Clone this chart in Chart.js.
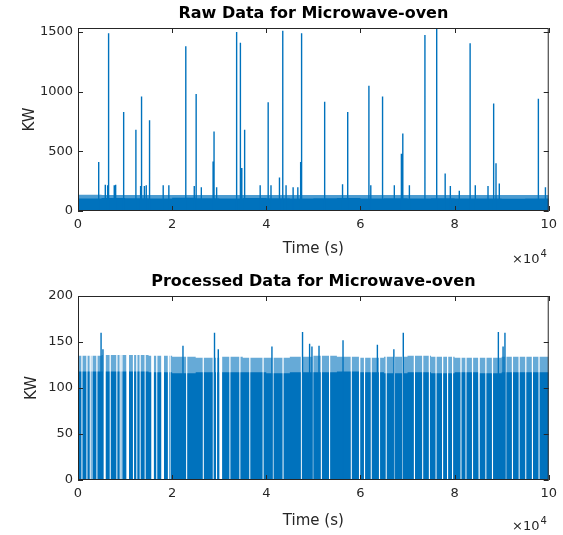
<!DOCTYPE html>
<html>
<head>
<meta charset="utf-8">
<script src="https://cdn.jsdelivr.net/npm/chart.js@4.4.1/dist/chart.umd.min.js"></script>
<style>
  body { margin: 0; background: #fff; }
  .panel { position: absolute; left: 0; width: 563px; }
</style>
</head>
<body>
<div class="panel" style="top:0;height:265px"><canvas id="rawChart" width="563" height="265"></canvas></div>
<div class="panel" style="top:265px;height:270px"><canvas id="procChart" width="563" height="270"></canvas></div>
<script>
// tick labels
const xTicks = [0, 20000, 40000, 60000, 80000, 100000];
const rawYTicks = [0, 500, 1000, 1500];
const procYTicks = [0, 50, 100, 150, 200];

// segment starts (s) for the dense on/off band, 5000 s each
const segT = [0, 5000, 10000, 15000, 20000, 25000, 30000, 35000, 40000, 45000,
  50000, 55000, 60000, 65000, 70000, 75000, 80000, 85000, 90000, 95000];

// raw data: band level (light fringe / dense body) per segment
const rawUpperV = [136, 135, 134, 135, 134, 133, 134, 135, 134, 133, 134, 135, 134, 134, 133, 134, 134, 133, 133, 134];
const rawBodyV = [105, 108, 106, 104, 110, 106, 104, 108, 106, 104, 106, 108, 105, 106, 104, 106, 105, 104, 102, 104];

// raw data: spikes
const rawSpikeT = [4400, 5800, 6300, 6500, 7700, 8000, 9700, 12300, 13300, 13500, 14100, 14500, 15200, 18100, 19300,
  22900, 24700, 25100, 26200, 28700, 28900, 29450, 33700, 34500, 34800, 35400, 38700, 40400, 41000, 42800,
  43500, 44200, 45700, 46700, 47300, 47500, 52400, 56200, 57300, 61800, 62200, 64700, 67200, 68700,
  69000, 70400, 73700, 76200, 78000, 79100, 81000, 83300, 84400, 87100, 88300, 88800, 89500, 97800, 99300];
const rawSpikeV = [410, 220, 215, 1490, 215, 220, 830, 680, 210, 960, 210, 215, 760, 215, 215,
  1380, 210, 980, 200, 415, 665, 200, 1500, 1410, 360, 680, 215, 910, 215, 280,
  1510, 215, 200, 200, 410, 1490, 915, 225, 830, 1050, 215, 960, 215, 480,
  650, 215, 1475, 1530, 315, 210, 170, 1405, 215, 210, 900, 400, 230, 940, 200];

// processed data: band level per segment
const procUpperV = [135, 136, 136, 135, 134, 133, 134, 133, 133, 134, 135, 134, 133, 134, 135, 134, 133, 133, 134, 134];
const procBodyV = [118, 118, 118, 117, 116, 117, 117, 117, 116, 117, 117, 118, 117, 116, 117, 116, 117, 116, 117, 117];

// processed data: times where the signal drops to zero (light stripes)
const procGapT = [840, 1900, 2600, 2970, 4020, 5430, 5780, 6840, 8260, 8960, 9320, 10380, 10700, 11790, 12500,
  13200, 14260, 15680, 16000, 16740, 17800, 18140, 19200, 19560, 23090, 26610, 28730, 29450, 30150, 30500,
  32270, 34390, 36500, 39320, 41440, 43560, 47460, 49920, 51690, 53450, 58050, 59810, 60870, 62290,
  64050, 65470, 67220, 68980, 71460, 73230, 74640, 76060, 77460, 78520, 79580, 81360, 82420, 83810,
  85230, 86650, 88050, 90890, 92290, 93710, 95130, 96530, 97940];

// processed data: spikes
const procSpikeT = [4900, 5300, 22300, 29000, 29800, 41200, 47700, 49200, 49700, 51200, 56300, 63600, 67100, 69100, 89300, 90300, 90700];
const procSpikeV = [160, 142, 146, 160, 142, 145, 161, 148, 145, 146, 152, 147, 142, 160, 161, 145, 160];

const tMax = 100000;
const blue = '#0072BD';
const gapHalf = 130;

function bandSeries(levels, gaps) {
  const pts = [];
  segT.forEach((t0, i) => {
    const t1 = i + 1 < segT.length ? segT[i + 1] : tMax;
    const v = levels[i];
    pts.push({ x: t0, y: v });
    gaps.filter((g) => g >= t0 && g < t1).forEach((g) => {
      pts.push({ x: g - gapHalf, y: v }, { x: g - gapHalf, y: 0 }, { x: g + gapHalf, y: 0 }, { x: g + gapHalf, y: v });
    });
    pts.push({ x: t1, y: v });
  });
  return pts;
}

function spikeSeries(times, values) {
  const pts = [];
  times.forEach((t, i) => pts.push({ x: t, y: 0 }, { x: t, y: values[i] }, { x: t, y: null }));
  return pts;
}

// MATLAB-like box, inward ticks, titles
const matlabAxes = {
  id: 'matlabAxes',
  afterDraw(chart, args, o) {
    const { ctx, chartArea: a, scales: { x, y } } = chart;
    ctx.save();
    ctx.strokeStyle = '#262626';
    ctx.lineWidth = 1;
    ctx.strokeRect(a.left + 0.5, a.top + 0.5, a.right - a.left - 1, a.bottom - a.top - 1);
    ctx.beginPath();
    x.ticks.forEach((t) => {
      const px = Math.round(x.getPixelForValue(t.value)) + 0.5;
      ctx.moveTo(px, a.bottom); ctx.lineTo(px, a.bottom - 5);
      ctx.moveTo(px, a.top); ctx.lineTo(px, a.top + 5);
    });
    y.ticks.forEach((t) => {
      const py = Math.round(y.getPixelForValue(t.value)) + 0.5;
      ctx.moveTo(a.left, py); ctx.lineTo(a.left + 5, py);
      ctx.moveTo(a.right, py); ctx.lineTo(a.right - 5, py);
    });
    ctx.stroke();

    const cx = (a.left + a.right) / 2;
    ctx.textAlign = 'center';
    ctx.textBaseline = 'middle';
    ctx.fillStyle = '#000';
    ctx.font = 'bold 16px "DejaVu Sans"';
    ctx.fillText(o.title, cx, o.titleY);

    ctx.fillStyle = '#262626';
    ctx.font = '15px "DejaVu Sans"';
    ctx.fillText('Time (s)', cx, o.xTitleY);

    ctx.save();
    ctx.translate(o.yTitleX, (a.top + a.bottom) / 2);
    ctx.rotate(-Math.PI / 2);
    ctx.fillText('KW', 0, 0);
    ctx.restore();

    ctx.textAlign = 'left';
    ctx.textBaseline = 'alphabetic';
    ctx.font = '13px "DejaVu Sans"';
    ctx.fillText('\u00d710', 512, o.expY);
    const w = ctx.measureText('\u00d710').width;
    ctx.font = '10px "DejaVu Sans"';
    ctx.fillText('4', 512 + w + 1, o.expY - 6);
    ctx.restore();
  }
};

function makeChart(id, yMax, yTicks, datasets, o) {
  const tickFont = { family: 'DejaVu Sans', size: 13 };
  return new Chart(document.getElementById(id), {
    type: 'line',
    data: { datasets: datasets },
    options: {
      responsive: false,
      animation: false,
      layout: { padding: { left: 0, right: 14, top: o.top, bottom: 0 } },
      elements: { point: { radius: 0 }, line: { tension: 0 } },
      plugins: { legend: { display: false }, tooltip: { enabled: false }, matlabAxes: o },
      scales: {
        x: {
          type: 'linear', min: 0, max: tMax,
          grid: { display: false, drawTicks: false }, border: { display: false },
          ticks: { autoSkip: false, maxRotation: 0, padding: 6, color: '#262626', font: tickFont,
            callback: (v) => String(v / 10000) },
          afterBuildTicks: (s) => { s.ticks = xTicks.map((v) => ({ value: v })); },
          afterFit: (s) => { s.height = o.xAxisH; }
        },
        y: {
          min: 0, max: yMax,
          grid: { display: false, drawTicks: false }, border: { display: false },
          ticks: { padding: 5, color: '#262626', font: tickFont, callback: (v) => String(v) },
          afterBuildTicks: (s) => { s.ticks = yTicks.map((v) => ({ value: v })); },
          afterFit: (s) => { s.width = 78; }
        }
      }
    },
    plugins: [matlabAxes]
  });
}

makeChart('rawChart', 1533, rawYTicks, [
  { data: spikeSeries(rawSpikeT, rawSpikeV), borderColor: blue, borderWidth: 1.4, spanGaps: false, fill: false },
  { data: bandSeries(rawBodyV, []), borderColor: blue, borderWidth: 0, backgroundColor: blue, fill: 'origin' },
  { data: bandSeries(rawUpperV, []), borderColor: 'rgba(0,114,189,0.7)', borderWidth: 0, backgroundColor: 'rgba(0,114,189,0.7)', fill: 'origin' }
], { title: 'Raw Data for Microwave-oven', top: 28, xAxisH: 54, titleY: 14, xTitleY: 249, yTitleX: 30, expY: 263 });

makeChart('procChart', 200, procYTicks, [
  { data: spikeSeries(procSpikeT, procSpikeV), borderColor: blue, borderWidth: 1.4, spanGaps: false, fill: false },
  { data: bandSeries(procBodyV, procGapT), borderColor: blue, borderWidth: 0, backgroundColor: blue, fill: 'origin' },
  { data: bandSeries(procUpperV, procGapT), borderColor: 'rgba(0,114,189,0.6)', borderWidth: 0, backgroundColor: 'rgba(0,114,189,0.6)', fill: 'origin' }
], { title: 'Processed Data for Microwave-oven', top: 31, xAxisH: 55, titleY: 17, xTitleY: 256, yTitleX: 32, expY: 265 });
</script>
</body>
</html>
